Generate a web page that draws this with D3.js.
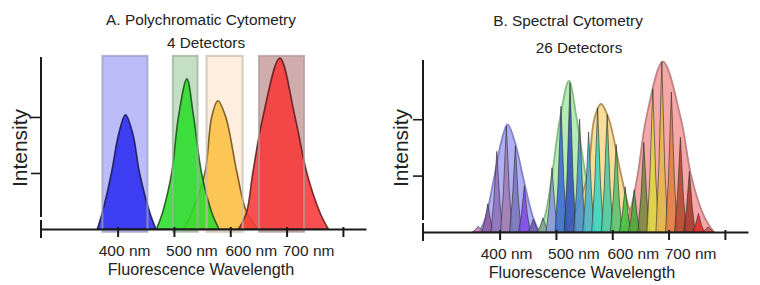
<!DOCTYPE html>
<html>
<head>
<meta charset="utf-8">
<script src="https://cdn.jsdelivr.net/npm/d3@7"></script>
<style>
  body { margin: 0; background: #fff; }
  text { font-family: 'Liberation Sans', Arial, sans-serif; fill: #222; }
</style>
</head>
<body>
<div id="viz"></div>
<script>
// axis values
const wavelengthTicks = [400, 500, 600, 700, 800];
const tickLabels = ['400 nm', '500 nm', '600 nm', '700 nm'];
const intensityTicks = [1, 2];

// A. polychromatic: emission curves (nm, intensity)
const polyBlueNm = [364, 373, 389, 402, 414, 427, 439, 457, 468];
const polyBlueI = [0, 0.3, 1.0, 1.7, 2.04, 1.7, 1.0, 0.3, 0];
const polyGreenNm = [469, 480, 496, 508, 523, 535, 549, 567, 580];
const polyGreenI = [0, 0.3, 1.0, 2.0, 2.68, 2.0, 1.0, 0.3, 0];
const polyYellowNm = [517, 532, 555, 567, 578, 592, 612, 629, 649];
const polyYellowI = [0, 0.3, 1.0, 2.0, 2.29, 2.0, 1.0, 0.3, 0];
const polyRedNm = [615, 629, 640, 658, 688, 715, 736, 759, 774];
const polyRedI = [0, 0.3, 1.0, 2.0, 3.05, 2.0, 1.0, 0.3, 0];

// the 4 detector bands (nm)
const bandLow = [373, 498, 558, 651];
const bandHigh = [453, 542, 622, 731];
const bandTop = 3.09;

// B. spectral: envelopes
const specPurpleNm = [364, 375, 391, 403, 414, 427, 441, 458, 470];
const specPurpleI = [0, 0.25, 1.0, 1.6, 1.91, 1.6, 1.0, 0.3, 0];
const specGreenNm = [470, 481, 493, 507, 523, 537, 553, 569, 582];
const specGreenI = [0, 0.3, 1.0, 2.0, 2.68, 2.0, 1.0, 0.3, 0];
const specYellowNm = [518, 533, 556, 568, 580, 594, 616, 634, 654];
const specYellowI = [0, 0.3, 1.0, 2.0, 2.27, 2.0, 1.0, 0.3, 0];
const specRedNm = [618, 630, 645, 660, 690, 722, 740, 762, 780];
const specRedI = [0, 0.3, 1.0, 2.0, 3.02, 2.0, 1.0, 0.3, 0];

// the 26 detectors: centre (nm) and signal height
const detectorNm = [362, 379, 395, 412, 428, 444, 460, 477, 493, 509, 525, 542, 558,
                    574, 591, 607, 623, 639, 656, 672, 688, 705, 721, 737, 753, 770];
const detectorI = [0.1, 0.5, 1.43, 1.88, 1.52, 0.82, 0.23, 0.25, 1.14, 2.23, 2.65, 2.0, 1.77,
                   2.2, 2.08, 1.55, 0.8, 0.75, 1.59, 2.54, 3.02, 2.48, 1.68, 1.08, 0.33, 0.09];
const detectorColors = ['#c878c0', '#8c5aa0', '#9070b8', '#a07cb0', '#7878b8', '#8048e0', '#6a5ab0',
  '#7aa090', '#8894dc', '#3a6ad0', '#3050b8', '#4a8cd0', '#48b4c8', '#38d4c4', '#48c8a0', '#58c070',
  '#40c040', '#46a838', '#76883c', '#dcd840', '#e0b848', '#e08040', '#b04830', '#a03828', '#e02828', '#e05050'];

const W = 760, H = 285;

const svg = d3.select('#viz').append('svg')
  .attr('width', W)
  .attr('height', H);

const zip = (nm, val) => nm.map((d, i) => ({ nm: d, i: val[i] }));

function drawAxes(g, x, y, p) {
  const base = y(0);
  // x axis
  const xAxis = d3.axisBottom(x).tickValues(wavelengthTicks).tickSize(8).tickFormat('').tickSizeOuter(0);
  const gx = g.append('g').attr('transform', `translate(0, ${base})`).call(xAxis);
  gx.select('.domain').attr('stroke', '#1a1a1a').attr('stroke-width', 2);
  gx.selectAll('.tick line').attr('y1', -2).attr('stroke', '#1a1a1a').attr('stroke-width', 2);
  // origin tick
  g.append('line')
    .attr('x1', x.range()[0]).attr('x2', x.range()[0])
    .attr('y1', base - 9).attr('y2', base + 9)
    .attr('stroke', '#1a1a1a').attr('stroke-width', 2);

  // y axis, stopping short of the origin
  const yAxis = d3.axisLeft(y).tickValues(intensityTicks).tickSize(10).tickFormat('').tickSizeOuter(0);
  const gy = g.append('g').attr('transform', `translate(${x.range()[0]}, 0)`).call(yAxis);
  gy.select('.domain').remove();
  gy.selectAll('.tick line').attr('stroke', '#1a1a1a').attr('stroke-width', 1.6);
  g.append('line')
    .attr('x1', x.range()[0]).attr('x2', x.range()[0])
    .attr('y1', y.range()[1]).attr('y2', base - 12)
    .attr('stroke', '#1a1a1a').attr('stroke-width', 2);

  // tick labels, nudged right as in the original figure
  const nudge = [7, 18, 21, 22];
  g.selectAll('.wl-label')
    .data(tickLabels)
    .enter().append('text')
    .attr('class', 'wl-label')
    .attr('x', (d, i) => x(wavelengthTicks[i]) + nudge[i])
    .attr('y', base + 27)
    .attr('text-anchor', 'middle')
    .style('font-size', '15.5px')
    .text(d => d);

  g.append('text')
    .attr('x', p.xTitle)
    .attr('y', base + 46)
    .attr('text-anchor', 'middle')
    .style('font-size', '16.2px')
    .text('Fluorescence Wavelength');

  g.append('text')
    .attr('transform', `translate(${p.yTitleX}, ${p.yTitleY}) rotate(-90)`)
    .attr('text-anchor', 'middle')
    .style('font-size', '21px')
    .text('Intensity');

  g.append('text')
    .attr('x', p.titleX).attr('y', p.titleY)
    .attr('text-anchor', 'middle')
    .style('font-size', '15.4px')
    .text(p.title);

  g.append('text')
    .attr('x', p.subX).attr('y', p.subY)
    .attr('text-anchor', 'middle')
    .style('font-size', '15.3px')
    .text(p.sub);
}

const smooth = d3.curveCatmullRom.alpha(0.5);

// ---------- Panel A ----------
const xA = d3.scaleLinear().domain([264, 841]).range([41, 366]);
const yA = d3.scaleLinear().domain([0, 3.07]).range([229, 57]);
const gA = svg.append('g');

const areaA = d3.area()
  .x(d => xA(d.nm))
  .y0(yA(0))
  .y1(d => Math.min(yA(0), yA(d.i)))
  .curve(smooth);

const bandFills = ['#bcbcf8', '#c4e0c4', '#fdeede', '#d0acac'];
const bandStrokes = ['#9c9cc4', '#9cb09c', '#c8bcb0', '#b09a9a'];

gA.selectAll('.band')
  .data(bandLow)
  .enter().append('rect')
  .attr('class', 'band')
  .attr('x', (d, i) => xA(d))
  .attr('width', (d, i) => xA(bandHigh[i]) - xA(d))
  .attr('y', yA(bandTop))
  .attr('height', yA(-0.05) - yA(bandTop))
  .style('fill', (d, i) => bandFills[i]);

const polyCurves = [
  { pts: zip(polyYellowNm, polyYellowI), fill: '#fcc043', stroke: '#6a4a18' },
  { pts: zip(polyGreenNm, polyGreenI), fill: '#2bdc2b', stroke: '#1a4a1a' },
  { pts: zip(polyBlueNm, polyBlueI), fill: '#2b2bef', stroke: '#16164a' },
  { pts: zip(polyRedNm, polyRedI), fill: '#f73838', stroke: '#5a1a1a' }
];

gA.selectAll('.dye')
  .data(polyCurves)
  .enter().append('path')
  .attr('class', 'dye')
  .attr('d', d => areaA(d.pts))
  .style('fill', d => d.fill)
  .style('fill-opacity', 0.88)
  .style('stroke', d => d.stroke)
  .style('stroke-width', 1.6)
  .style('stroke-opacity', 0.85);

// band outlines on top
gA.selectAll('.band-edge')
  .data(bandLow)
  .enter().append('rect')
  .attr('class', 'band-edge')
  .attr('x', (d, i) => xA(d))
  .attr('width', (d, i) => xA(bandHigh[i]) - xA(d))
  .attr('y', yA(bandTop))
  .attr('height', yA(-0.05) - yA(bandTop))
  .style('fill', 'none')
  .style('stroke', (d, i) => bandStrokes[i])
  .style('stroke-width', 2)
  .style('stroke-opacity', 0.75);

drawAxes(gA, xA, yA, {
  title: 'A. Polychromatic Cytometry', titleX: 201, titleY: 25,
  sub: '4 Detectors', subX: 206, subY: 48,
  xTitle: 201, yTitleX: 27, yTitleY: 148
});

// ---------- Panel B ----------
const xB = d3.scaleLinear().domain([264, 841]).range([423, 748]);
const yB = d3.scaleLinear().domain([0, 3.05]).range([232, 60]);
const gB = svg.append('g');

const areaB = d3.area()
  .x(d => xB(d.nm))
  .y0(yB(0))
  .y1(d => Math.min(yB(0), yB(d.i)))
  .curve(smooth);

const envelopes = [
  { pts: zip(specPurpleNm, specPurpleI), fill: '#9c9cf1', stroke: '#8282c8' },
  { pts: zip(specGreenNm, specGreenI), fill: '#a1e7a1', stroke: '#84bc84' },
  { pts: zip(specYellowNm, specYellowI), fill: '#f6d67e', stroke: '#b09058' },
  { pts: zip(specRedNm, specRedI), fill: '#f49292', stroke: '#c08282' }
];

gB.selectAll('.envelope')
  .data(envelopes)
  .enter().append('path')
  .attr('class', 'envelope')
  .attr('d', d => areaB(d.pts))
  .style('fill', d => d.fill)
  .style('fill-opacity', 0.8)
  .style('stroke', d => d.stroke)
  .style('stroke-width', 1.8);

// one detector's narrow response, as fractions of half width and height
const spikeShape = [[-1, 0], [-0.5, 0.38], [0, 1], [0.5, 0.38], [1, 0]];
const spikeHalfWidth = 10.5;
const spikeLine = d3.line().x(d => xB(d[0])).y(d => yB(d[1]));

gB.selectAll('.detector')
  .data(detectorNm)
  .enter().append('path')
  .attr('class', 'detector')
  .attr('d', (c, i) => spikeLine(spikeShape.map(s => [c + s[0] * spikeHalfWidth, s[1] * detectorI[i]])) + 'Z')
  .style('fill', (d, i) => detectorColors[i])
  .style('fill-opacity', 0.88)
  .style('stroke', '#2a2a2a')
  .style('stroke-width', 0.8)
  .style('stroke-opacity', 0.75);

drawAxes(gB, xB, yB, {
  title: 'B. Spectral Cytometry', titleX: 568, titleY: 26,
  sub: '26 Detectors', subX: 579, subY: 53,
  xTitle: 582, yTitleX: 408, yTitleY: 148
});
</script>
</body>
</html>
